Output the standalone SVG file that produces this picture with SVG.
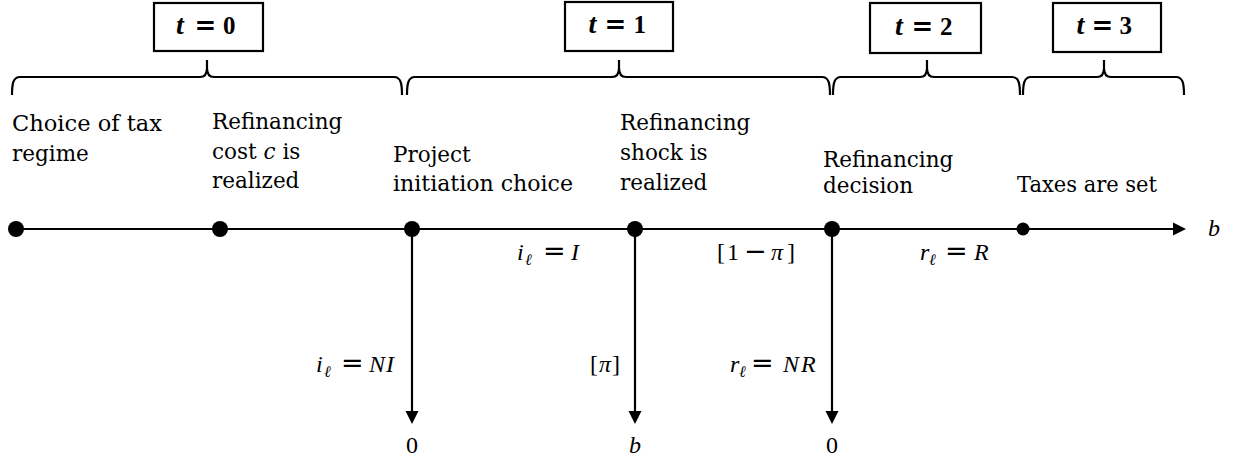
<svg xmlns="http://www.w3.org/2000/svg" width="1233" height="460" viewBox="0 0 1233 460">
<defs>
<style>
.txt{font-family:"DejaVu Serif","Liberation Serif",serif;font-size:21.5px;fill:#000}
.mi{font-family:"Liberation Serif",serif;font-style:italic;font-size:24px;fill:#000}
.mu{font-family:"Liberation Serif",serif;font-size:24px;fill:#000}
.sub{font-family:"Liberation Serif",serif;font-style:italic;font-size:16px;fill:#000}
.op{font-family:"DejaVu Sans",sans-serif;font-size:27px;fill:#000}
.bt{font-family:"Liberation Serif",serif;font-style:italic;font-weight:bold;font-size:28px;fill:#000}
.bop{font-family:"DejaVu Sans",sans-serif;font-weight:bold;font-size:26px;fill:#000}
.bd{font-family:"Liberation Serif",serif;font-weight:bold;font-size:25px;fill:#000}
.box{fill:#fff;stroke:#000;stroke-width:2.2}
.brace{fill:none;stroke:#000;stroke-width:2.2}
.ln{fill:none;stroke:#000;stroke-width:2.2}
.dot{fill:#000}
</style>
<marker id="ah" markerUnits="userSpaceOnUse" markerWidth="14" markerHeight="14" viewBox="0 0 14 14" refX="7" refY="7" orient="auto">
<path d="M0,0.5 L13,7 L0,13.5 z" fill="#000"/>
</marker>
</defs>

<g id="period-boxes">
<g id="box-t0">
<rect class="box" x="154" y="3" width="109" height="48"/>
<text y="34"><tspan class="bt" x="176">t</tspan><tspan class="bop" x="194.5">=</tspan><tspan class="bd" x="223">0</tspan></text>
</g>
<g id="box-t1">
<rect class="box" x="565" y="2" width="108" height="49"/>
<text y="33"><tspan class="bt" x="588.5">t</tspan><tspan class="bop" x="604.5">=</tspan><tspan class="bd" x="633.5">1</tspan></text>
</g>
<g id="box-t2">
<rect class="box" x="870" y="3" width="111" height="50"/>
<text y="35"><tspan class="bt" x="895">t</tspan><tspan class="bop" x="911.5">=</tspan><tspan class="bd" x="940">2</tspan></text>
</g>
<g id="box-t3">
<rect class="box" x="1053" y="3" width="108" height="49"/>
<text y="34"><tspan class="bt" x="1076.5">t</tspan><tspan class="bop" x="1091.5">=</tspan><tspan class="bd" x="1119.5">3</tspan></text>
</g>
</g>

<g id="braces">
<path class="brace" d="M12,95 C12,84 13,77 20,77 L200,77 C204,77 207,75 207,68 L207,60 M207,68 C207,75 210,77 214,77 L394,77 C401,77 402,84 402,95"/>
<path class="brace" d="M407,95 C407,84 408,77 415,77 L612,77 C616,77 619,75 619,68 L619,60 M619,68 C619,75 622,77 626,77 L822,77 C829,77 830,84 830,95"/>
<path class="brace" d="M833,95 C833,84 834,77 841,77 L920,77 C924,77 927,75 927,68 L927,60 M927,68 C927,75 930,77 934,77 L1012,77 C1019,77 1020,84 1020,95"/>
<path class="brace" d="M1023,95 C1023,84 1024,77 1031,77 L1097,77 C1101,77 1104,75 1104,68 L1104,60 M1104,68 C1104,75 1107,77 1111,77 L1176,77 C1183,77 1184,84 1184,95"/>
</g>

<g id="event-labels">
<g id="ev-tax-regime">
<text class="txt" x="12" y="131" textLength="150" lengthAdjust="spacingAndGlyphs">Choice of tax</text>
<text class="txt" x="12" y="161">regime</text>
</g>
<g id="ev-cost">
<text class="txt" x="212" y="129">Refinancing</text>
<text class="txt" x="212" y="159">cost <tspan font-style="italic">c</tspan> is</text>
<text class="txt" x="212" y="188">realized</text>
</g>
<g id="ev-project">
<text class="txt" x="393" y="162">Project</text>
<text class="txt" x="393" y="191" textLength="180" lengthAdjust="spacingAndGlyphs">initiation choice</text>
</g>
<g id="ev-shock">
<text class="txt" x="620" y="130">Refinancing</text>
<text class="txt" x="620" y="160">shock is</text>
<text class="txt" x="620" y="190">realized</text>
</g>
<g id="ev-decision">
<text class="txt" x="823" y="167">Refinancing</text>
<text class="txt" x="823" y="193">decision</text>
</g>
<g id="ev-taxes">
<text class="txt" x="1017" y="192" textLength="140" lengthAdjust="spacingAndGlyphs">Taxes are set</text>
</g>
</g>

<g id="connectors">
<line class="ln" x1="16" y1="229" x2="1180" y2="229" marker-end="url(#ah)"/>
<line class="ln" x1="412" y1="229" x2="412" y2="418" marker-end="url(#ah)"/>
<line class="ln" x1="635" y1="229" x2="635" y2="418" marker-end="url(#ah)"/>
<line class="ln" x1="832" y1="229" x2="832" y2="418" marker-end="url(#ah)"/>
</g>

<g id="timeline-dots">
<circle class="dot" cx="16" cy="229" r="8"/>
<circle class="dot" cx="220" cy="229" r="8"/>
<circle class="dot" cx="412" cy="229" r="8"/>
<circle class="dot" cx="635" cy="229" r="8"/>
<circle class="dot" cx="832" cy="229" r="8"/>
<circle class="dot" cx="1023" cy="229" r="6.5"/>
</g>

<g id="branch-labels">
<text y="260"><tspan class="mi" x="517">i</tspan><tspan class="sub" x="525" dy="5">ℓ</tspan><tspan class="op" x="543" dy="-5">=</tspan><tspan class="mi" x="571">I</tspan></text>
<text y="260"><tspan class="mu" x="717">[</tspan><tspan class="mu" x="727">1</tspan><tspan class="op" x="744">−</tspan><tspan class="mi" x="771">π</tspan><tspan class="mu" x="787">]</tspan></text>
<text y="260"><tspan class="mi" x="920">r</tspan><tspan class="sub" x="929" dy="5">ℓ</tspan><tspan class="op" x="945" dy="-5">=</tspan><tspan class="mi" x="974">R</tspan></text>
<text y="372"><tspan class="mi" x="316">i</tspan><tspan class="sub" x="324" dy="5">ℓ</tspan><tspan class="op" x="341" dy="-5">=</tspan><tspan class="mi" x="369">N</tspan><tspan class="mi" x="386">I</tspan></text>
<text y="372"><tspan class="mu" x="590">[</tspan><tspan class="mi" x="599">π</tspan><tspan class="mu" x="612">]</tspan></text>
<text y="372"><tspan class="mi" x="730">r</tspan><tspan class="sub" x="739" dy="5">ℓ</tspan><tspan class="op" x="751" dy="-5">=</tspan><tspan class="mi" x="783">N</tspan><tspan class="mi" x="801">R</tspan></text>
</g>

<g id="outcomes">
<text class="mu" x="412" y="453" text-anchor="middle">0</text>
<text class="mi" x="635" y="453" text-anchor="middle">b</text>
<text class="mu" x="832" y="453" text-anchor="middle">0</text>
<text class="mi" x="1208" y="236">b</text>
</g>
</svg>
